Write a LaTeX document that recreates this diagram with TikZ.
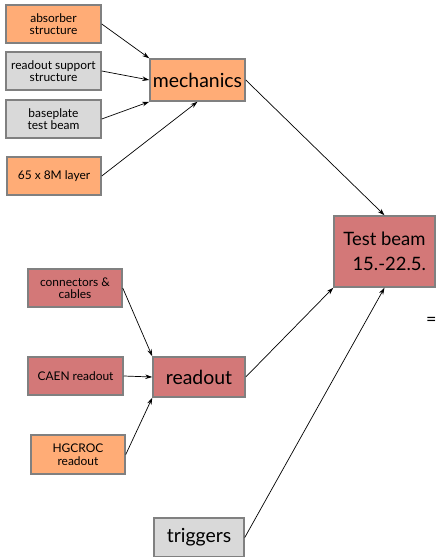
\documentclass[tikz,border=0pt]{standalone}
\usepackage{fontspec}
\setmainfont{Lato}
\usetikzlibrary{arrows.meta}
\definecolor{orng}{RGB}{255,172,118}
\definecolor{redb}{RGB}{211,120,120}
\definecolor{gryb}{RGB}{217,217,217}
\definecolor{bord}{RGB}{128,128,128}
\tikzset{
  box/.style={draw=bord,line width=1.5bp,inner sep=0pt,align=center,font=\fontsize{12}{12.5}\selectfont},
  bigbox/.style={box,font=\fontsize{19.5}{22}\selectfont},
  conn/.style={line width=0.7bp,-{Stealth[length=7bp,width=4.5bp]}}
}
\begin{document}
\begin{tikzpicture}[x=1bp,y=-1bp]
\useasboundingbox (0,0) rectangle (436,557);
\node[box,fill=orng,minimum width=95bp,minimum height=38bp] (abs) at (53.5,24) {absorber\\structure};
\node[box,fill=gryb,minimum width=95bp,minimum height=38bp] (sup) at (53.5,71) {readout support\\structure};
\node[box,fill=gryb,minimum width=95bp,minimum height=38bp] (base) at (53.5,119) {baseplate\\test beam};
\node[box,fill=orng,minimum width=94bp,minimum height=38bp] (lay) at (54,176) {65 x 8M layer};
\node[bigbox,fill=orng,minimum width=95bp,minimum height=42bp] (mech) at (197.5,80) {mechanics};
\node[box,fill=redb,minimum width=101bp,minimum height=71bp,font=\fontsize{18.5}{25}\selectfont] (tb) at (384.5,251.5) {Test beam\\\ \ 15.-22.5.};
\node[box,fill=redb,minimum width=94bp,minimum height=38bp] (con) at (75,288) {connectors \&\\cables};
\node[box,fill=redb,minimum width=95bp,minimum height=38bp] (caen) at (75.5,376) {CAEN readout};
\node[box,fill=orng,minimum width=94bp,minimum height=39bp] (hg) at (78,454.5) {HGCROC\\readout};
\node[bigbox,fill=redb,minimum width=92bp,minimum height=40bp] (ro) at (199,377) {readout};
\node[bigbox,fill=gryb,minimum width=90bp,minimum height=39bp] (trig) at (199,537.5) {triggers};
\node[anchor=west,inner sep=0pt,font=\fontsize{18}{20}\selectfont] (eq) at (426,321) {=};
\draw[conn] (abs.east) -- (mech.north west);
\draw[conn] (sup.east) -- (mech.west);
\draw[conn] (base.east) -- (mech.south west);
\draw[conn] (lay.east) -- (mech.south);
\draw[conn] (mech.east) -- (tb.north);
\draw[conn] (con.east) -- (ro.north west);
\draw[conn] (caen.east) -- (ro.west);
\draw[conn] (hg.east) -- (ro.south west);
\draw[conn] (ro.east) -- (tb.south west);
\draw[conn] (trig.east) -- (tb.south);
\end{tikzpicture}
\end{document}
